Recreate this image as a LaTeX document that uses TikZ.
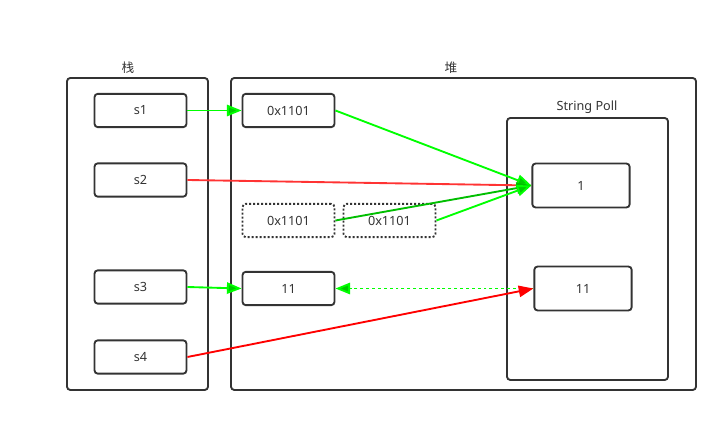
\documentclass[tikz,border=0pt]{standalone}
\usepackage{fontspec}
\setmainfont{Noto Sans}
\newfontfamily\cjk{Noto Sans CJK SC}
\usetikzlibrary{arrows.meta}
\definecolor{lime}{RGB}{0,255,0}
\definecolor{limetip}{RGB}{0,204,0}
\definecolor{darklime}{RGB}{0,190,0}
\definecolor{frame}{RGB}{51,51,51}

\begin{document}
\begin{tikzpicture}[x=0.75pt,y=-0.75pt,
  box/.style={draw=frame,line width=1.4pt,rounded corners=2.5pt,minimum width=69pt,minimum height=25pt,inner sep=0pt,font=\fontsize{9.5}{11}\selectfont,text=frame},
  dotbox/.style={box,dash pattern=on 1.5pt off 1.5pt},
  poolbox/.style={box,minimum width=73pt,minimum height=33pt},
  gr/.style={draw=lime,line width=1.4pt,-{Triangle[length=11pt,width=8.5pt,fill=limetip]}},
  rd/.style={draw=red,line width=1.4pt,-{Triangle[length=11pt,width=8.5pt,fill=red]}}]
\useasboundingbox (0,0) rectangle (728,423);
% frames
\draw[frame,line width=1.4pt,rounded corners=2.5pt] (67,78) rectangle (208,390);
\draw[frame,line width=1.4pt,rounded corners=2.5pt] (231,78) rectangle (696,390);
\draw[frame,line width=1.4pt,rounded corners=2.5pt] (507,118) rectangle (668,380);
\node[text=frame] (stack) at (128,68) {\cjk\fontsize{9.5}{11}\selectfont 栈};
\node[text=frame] (heap) at (451,68) {\cjk\fontsize{9.5}{11}\selectfont 堆};
\node[text=frame,font=\fontsize{9.5}{11}\selectfont] (pool) at (587,107) {String Poll};
% stack
\node[box] (s1) at (140.5,110.5) {s1};
\node[box] (s2) at (140.5,180) {s2};
\node[box] (s3) at (140.5,287) {s3};
\node[box] (s4) at (140.5,357) {s4};
% heap
\node[box] (h1) at (288.5,110.5) {0x1101};
\node[dotbox] (h2) at (288.5,220.5) {0x1101};
\node[dotbox] (h3) at (389.5,220.5) {0x1101};
\node[box] (h4) at (288.5,288.5) {11};
% pool
\node[poolbox] (p1) at (581,185.5) {1};
\node[poolbox] (p2) at (583,288.5) {11};
% arrows
\draw[rd,draw=red!80] (s2.east) -- (p1.west);
\draw[gr] (s1.east) -- (h1.west);
\draw[gr] (h1.east) -- (p1.west);
\draw[gr,draw=darklime] (h2.east) -- (p1.west);
\draw[gr] (h3.east) -- (p1.west);
\draw[gr] (s3.east) -- (h4.west);
\draw[gr,dash pattern=on 2.2pt off 2.2pt] (p2.west) -- (h4.east);
\draw[rd] (s4.east) -- (p2.west);
\end{tikzpicture}
\end{document}
